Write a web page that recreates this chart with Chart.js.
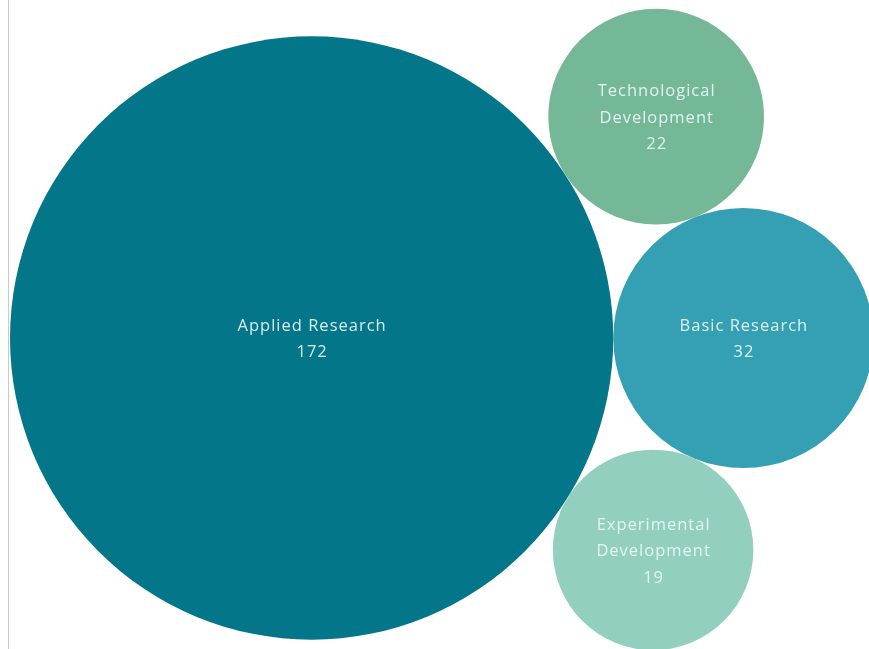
<!DOCTYPE html>
<html>
<head>
<meta charset="utf-8">
<script src="https://cdn.jsdelivr.net/npm/chart.js@4/dist/chart.umd.min.js"></script>
<style>
    html, body { margin: 0; padding: 0; background: #ffffff; }
    #wrap { width: 869px; height: 649px; position: relative; }
</style>
</head>
<body>
<div id="wrap"><canvas id="bubbles" width="869" height="649"></canvas></div>
<script>
// data
const categories = ['Applied Research', 'Technological Development', 'Basic Research', 'Experimental Development'];
const counts = [172, 22, 32, 19];
const colors = ['#03768A', '#74B898', '#35A0B3', '#93CFBF'];

const W = 869, H = 649;
const pxPerRoot = 23; // bubble area ~ count

// packed layout: big bubble on the left, Basic touching it on the right,
// the other two tucked in above / below touching both
function tangentTo(a, b, r, side) {
    const dx = b.x - a.x, dy = b.y - a.y;
    const d = Math.sqrt(dx * dx + dy * dy);
    const da = a.r + r, db = b.r + r;
    const along = (da * da - db * db + d * d) / (2 * d);
    const h = Math.sqrt(Math.max(0, da * da - along * along));
    const ux = dx / d, uy = dy / d;
    return { x: a.x + ux * along - uy * h * side, y: a.y + uy * along + ux * h * side, r: r };
}

function buildLayout() {
    const radii = counts.map(v => Math.sqrt(v) * pxPerRoot);
    const big = { x: 10 + radii[0], y: 338, r: radii[0] };
    const basic = { x: big.x + radii[0] + radii[2], y: big.y, r: radii[2] };
    const tech = tangentTo(big, basic, radii[1], -1);
    const exp = tangentTo(big, basic, radii[3], 1);
    return [big, tech, basic, exp];
}

const points = buildLayout();

const labelPlugin = {
    id: 'bubbleLabels',
    beforeDraw(chart) {
        const ctx = chart.ctx;
        ctx.save();
        ctx.strokeStyle = '#c9c9c9';
        ctx.lineWidth = 1;
        ctx.beginPath();
        ctx.moveTo(8.5, 0);
        ctx.lineTo(8.5, H);
        ctx.stroke();
        ctx.restore();
    },
    afterDatasetsDraw(chart) {
        const ctx = chart.ctx;
        const meta = chart.getDatasetMeta(0);
        ctx.save();
        ctx.font = '16.5px "Open Sans", sans-serif';
        ctx.letterSpacing = '1px';
        ctx.fillStyle = 'rgba(232, 248, 246, 0.92)';
        ctx.textAlign = 'center';
        ctx.textBaseline = 'middle';
        meta.data.forEach(function(el, i) {
            const maxW = points[i].r * 1.6;
            // simple word wrap
            const words = categories[i].split(' ');
            const lines = [];
            let cur = '';
            words.forEach(function(w) {
                const test = cur ? cur + ' ' + w : w;
                if (cur && ctx.measureText(test).width > maxW) {
                    lines.push(cur);
                    cur = w;
                } else {
                    cur = test;
                }
            });
            lines.push(cur);
            lines.push(String(counts[i]));
            const lh = 26.5;
            const top = el.y + 1.5 - (lines.length - 1) * lh / 2;
            lines.forEach(function(t, k) {
                ctx.fillText(t, el.x + 0.5, top + k * lh);
            });
        });
        ctx.restore();
    }
};

new Chart(document.getElementById('bubbles').getContext('2d'), {
    type: 'bubble',
    data: {
        labels: categories,
        datasets: [{
            data: points.map(p => ({ x: p.x, y: p.y, r: p.r })),
            backgroundColor: colors,
            borderWidth: 0,
            hoverBorderWidth: 0,
            hoverRadius: 0,
            clip: false
        }]
    },
    options: {
        responsive: false,
        animation: false,
        devicePixelRatio: 1,
        layout: { padding: 0, autoPadding: false },
        events: [],
        plugins: {
            legend: { display: false },
            tooltip: { enabled: false }
        },
        scales: {
            x: { type: 'linear', min: 0, max: W, display: false },
            y: { type: 'linear', min: 0, max: H, reverse: true, display: false }
        }
    },
    plugins: [labelPlugin]
});
</script>
</body>
</html>
